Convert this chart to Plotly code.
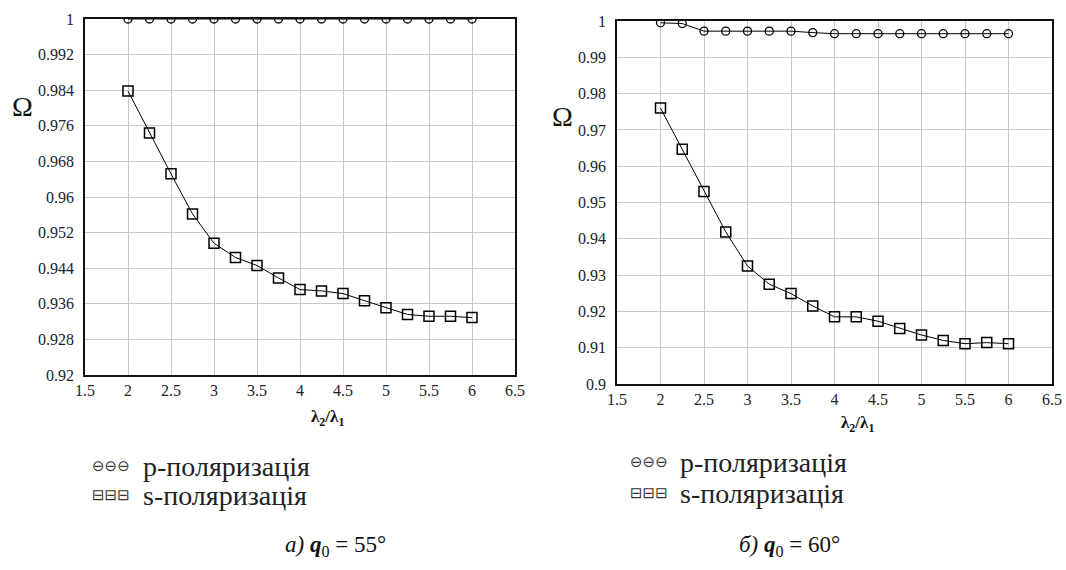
import plotly.graph_objects as go

# Wavelength ratio lambda2/lambda1
ratio = [2.0, 2.25, 2.5, 2.75, 3.0, 3.25, 3.5, 3.75, 4.0,
         4.25, 4.5, 4.75, 5.0, 5.25, 5.5, 5.75, 6.0]

# Panel a): q0 = 55 deg
p_55 = [1.0] * 17
s_55 = [0.9838, 0.9744, 0.9652, 0.9562, 0.9496, 0.9464, 0.9446, 0.9418, 0.9392,
        0.9389, 0.9383, 0.9367, 0.9351, 0.9336, 0.9332, 0.9332, 0.9329]

# Panel б): q0 = 60 deg
p_60 = [0.9995, 0.9993, 0.9972, 0.9972, 0.9972, 0.9972, 0.9972, 0.9968, 0.9965,
        0.9965, 0.9965, 0.9965, 0.9965, 0.9965, 0.9965, 0.9965, 0.9965]
s_60 = [0.9760, 0.9647, 0.9530, 0.9419, 0.9325, 0.9275, 0.9249, 0.9215, 0.9185,
        0.9185, 0.9173, 0.9153, 0.9135, 0.9120, 0.9111, 0.9114, 0.9111]

x_ticks = [1.5, 2, 2.5, 3, 3.5, 4, 4.5, 5, 5.5, 6, 6.5]
y_ticks_55 = [0.92, 0.928, 0.936, 0.944, 0.952, 0.96, 0.968, 0.976, 0.984, 0.992, 1]
y_ticks_60 = [0.9, 0.91, 0.92, 0.93, 0.94, 0.95, 0.96, 0.97, 0.98, 0.99, 1]

legend_labels = ["p-поляризація", "s-поляризація"]
captions = ["<i>а)</i> <b><i>q</i></b><sub>0</sub> = 55°", "<i>б)</i> <b><i>q</i></b><sub>0</sub> = 60°"]

SERIF = "Liberation Serif"
W, H = 1066, 570

fig = go.Figure()

line_style = dict(color="black", width=1)
circle = dict(symbol="circle-open", size=8, color="black", line=dict(width=1.3, color="black"))
square = dict(symbol="square-open", size=10, color="black", line=dict(width=1.5, color="black"))

for xa, ya, p_vals, s_vals in [("x", "y", p_55, s_55), ("x2", "y2", p_60, s_60)]:
    fig.add_trace(go.Scatter(x=ratio, y=p_vals, mode="lines+markers", line=line_style,
                             marker=circle, xaxis=xa, yaxis=ya, showlegend=False,
                             cliponaxis=True))
    fig.add_trace(go.Scatter(x=ratio, y=s_vals, mode="lines+markers", line=line_style,
                             marker=square, xaxis=xa, yaxis=ya, showlegend=False,
                             cliponaxis=True))

def px_x(v):
    return v / W

def px_y(v):
    return 1 - v / H

common_x = dict(range=[1.5, 6.5], tickvals=x_ticks, ticktext=[f"{t:g}" for t in x_ticks],
                showgrid=True, gridcolor="#c8c8c8", gridwidth=1.3, zeroline=False,
                showline=True, linecolor="#111", linewidth=1.5, mirror=True,
                ticks="", automargin=False, ticklabelstandoff=0,
                tickfont=dict(family=SERIF, size=16, color="#222"))
common_y = dict(showgrid=True, gridcolor="#c8c8c8", gridwidth=1.3, zeroline=False,
                showline=True, linecolor="#111", linewidth=1.5, mirror=True,
                ticks="", ticklabelstandoff=6, automargin=False,
                tickfont=dict(family=SERIF, size=16, color="#222"))

fig.update_layout(
    template="none",
    width=W, height=H,
    margin=dict(l=0, r=0, t=0, b=0, autoexpand=False),
    paper_bgcolor="white", plot_bgcolor="white",
    font=dict(family=SERIF),
    xaxis=dict(domain=[px_x(85), px_x(515)], anchor="y", **common_x),
    yaxis=dict(domain=[px_y(375), px_y(19)], anchor="x", range=[0.92, 1.0],
               tickvals=y_ticks_55, ticktext=[f"{t:g}" for t in y_ticks_55], **common_y),
    xaxis2=dict(domain=[px_x(617), px_x(1052)], anchor="y2", **common_x),
    yaxis2=dict(domain=[px_y(384), px_y(21)], anchor="x2", range=[0.9, 1.0],
                tickvals=y_ticks_60, ticktext=[f"{t:g}" for t in y_ticks_60], **common_y),
    showlegend=False,
)

annotations = []

def note(text, x, y, size, xanchor="center", family=SERIF, color="#111"):
    annotations.append(dict(text=text, x=px_x(x), y=px_y(y), xref="paper", yref="paper",
                            xanchor=xanchor, yanchor="middle", showarrow=False,
                            font=dict(family=family, size=size, color=color)))

# Axis titles
for xo, yo in [(22, 106), (562, 117)]:
    note("Ω", xo, yo, 28)
for xo, yo in [(327, 418), (857, 424)]:
    note("<b>λ<sub>2</sub>/λ<sub>1</sub></b>", xo, yo, 17)

# Legends under each panel
for gx, tx, y1, y2 in [(132, 141, 466, 495), (670, 678, 462, 493)]:
    for glyph, label, yy in [("⊖⊖⊖", legend_labels[0], y1), ("⊟⊟⊟", legend_labels[1], y2)]:
        note(glyph, gx, yy, 15, xanchor="right", family="DejaVu Sans", color="#333")
        note(label, tx, yy, 28, xanchor="left", color="#222")

# Panel captions
for cx, text in [(335, captions[0]), (789, captions[1])]:
    note(text, cx, 546, 23)

fig.update_layout(annotations=annotations)

fig.write_html("out.html")
